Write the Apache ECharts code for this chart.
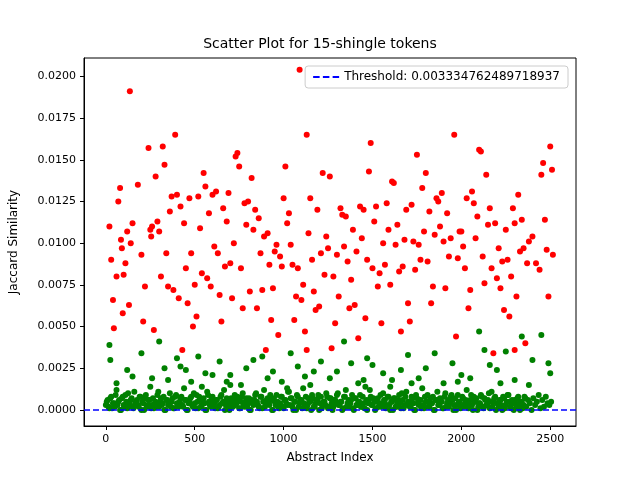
<!DOCTYPE html>
<html>
<head>
<meta charset="UTF-8">
<script src="https://cdn.jsdelivr.net/npm/echarts/dist/echarts.min.js"></script>
<style>html,body{margin:0;background:#fff}#chart{width:640px;height:480px}</style>
</head>
<body>
<div id="chart"></div>
<script type="text/javascript">
const threshold = 0.003334762489718937;
const xTicks = [0, 500, 1000, 1500, 2000, 2500];
const yTicks = [0, 0.0025, 0.005, 0.0075, 0.01, 0.0125, 0.015, 0.0175, 0.02];

// Points above threshold: [index, similarity]
const redPoints = [
[20,0.0110],[30,0.0090],[40,0.0066],[45,0.0049],[60,0.0080],[70,0.0125],[80,0.0133],[85,0.0102],[90,0.0097],[95,0.0058],
[100,0.0081],[110,0.0088],[120,0.0107],[130,0.0063],[135,0.0191],[140,0.0100],[150,0.0112],[180,0.0135],[200,0.0093],
[210,0.0053],[220,0.0074],[240,0.0157],[250,0.0108],[255,0.0104],[260,0.0110],[270,0.0048],[280,0.0140],[290,0.0113],[300,0.0107],
[310,0.0080],[320,0.0158],[330,0.0147],[340,0.0094],[350,0.0074],[360,0.0119],[370,0.0128],[380,0.0072],[390,0.0165],[400,0.0129],
[410,0.0067],[420,0.0122],[430,0.0036],[440,0.0112],[450,0.0085],[460,0.0064],[470,0.0127],[480,0.0094],[490,0.0050],[500,0.0075],
[510,0.0056],[520,0.0128],[530,0.0109],[540,0.0082],[550,0.0142],[560,0.0134],[570,0.0079],[580,0.0118],[590,0.0074],[600,0.0129],
[610,0.0098],[620,0.0131],[630,0.0094],[640,0.0069],[650,0.0053],[660,0.0121],[670,0.0086],[680,0.0113],[690,0.0130],[700,0.0088],
[710,0.0067],[720,0.0100],[730,0.0152],[740,0.0154],[750,0.0146],[760,0.0085],[770,0.0061],[780,0.0124],[790,0.0111],[800,0.0125],
[810,0.0071],[820,0.0139],[830,0.0108],[840,0.0120],[850,0.0061],[860,0.0115],[870,0.0094],[880,0.0072],[890,0.0104],[900,0.0036],
[910,0.0106],[920,0.0087],[930,0.0054],[940,0.0073],[950,0.0095],[960,0.0099],[970,0.0045],[980,0.0092],[990,0.0086],[1000,0.0127],
[1010,0.0146],[1020,0.0112],[1030,0.0118],[1040,0.0099],[1050,0.0087],[1060,0.0054],[1070,0.0068],[1080,0.0085],[1090,0.0204],[1100,0.0066],
[1110,0.0075],[1120,0.0047],[1130,0.0165],[1140,0.0106],[1150,0.0127],[1160,0.0090],[1170,0.0071],[1180,0.0060],[1190,0.0120],[1200,0.0062],
[1210,0.0094],[1220,0.0142],[1230,0.0081],[1240,0.0104],[1250,0.0097],[1260,0.0140],[1270,0.0037],[1280,0.0080],[1290,0.0052],[1300,0.0093],
[1310,0.0068],[1320,0.0121],[1330,0.0117],[1340,0.0098],[1350,0.0116],[1360,0.0089],[1370,0.0061],[1380,0.0078],[1390,0.0108],[1400,0.0063],
[1410,0.0095],[1420,0.0043],[1430,0.0122],[1440,0.0103],[1450,0.0120],[1460,0.0055],[1470,0.0090],[1480,0.0143],[1490,0.0160],[1500,0.0085],
[1510,0.0113],[1520,0.0122],[1530,0.0074],[1540,0.0082],[1550,0.0052],[1560,0.0100],[1570,0.0087],[1580,0.0124],[1590,0.0108],[1600,0.0075],
[1610,0.0137],[1620,0.0136],[1630,0.0099],[1640,0.0111],[1650,0.0083],[1660,0.0047],[1670,0.0086],[1680,0.0102],[1690,0.0120],[1700,0.0064],
[1710,0.0053],[1720,0.0123],[1730,0.0101],[1740,0.0084],[1750,0.0153],[1760,0.0099],[1770,0.0090],[1780,0.0133],[1790,0.0107],[1800,0.0142],
[1810,0.0089],[1820,0.0119],[1830,0.0064],[1840,0.0074],[1850,0.0105],[1860,0.0127],[1870,0.0125],[1880,0.0110],[1890,0.0130],[1900,0.0101],
[1910,0.0073],[1920,0.0118],[1930,0.0092],[1940,0.0103],[1960,0.0165],[1970,0.0044],[1980,0.0091],[1990,0.0107],[2000,0.0107],[2010,0.0098],
[2020,0.0085],[2030,0.0127],[2040,0.0061],[2050,0.0072],[2060,0.0131],[2070,0.0124],[2080,0.0103],[2090,0.0116],[2100,0.0156],[2110,0.0155],
[2120,0.0092],[2130,0.0076],[2140,0.0141],[2150,0.0111],[2160,0.0121],[2170,0.0085],[2180,0.0034],[2190,0.0112],[2200,0.0079],[2210,0.0097],
[2220,0.0073],[2230,0.0089],[2240,0.0060],[2250,0.0108],[2260,0.0090],[2270,0.0056],[2280,0.0080],[2290,0.0121],[2300,0.0112],[2310,0.0068],
[2320,0.0129],[2330,0.0095],[2340,0.0114],[2350,0.0097],[2360,0.0040],[2370,0.0088],[2380,0.0101],[2400,0.0104],[2420,0.0088],[2440,0.0084],
[2450,0.0141],[2460,0.0148],[2470,0.0114],[2480,0.0096],[2490,0.0068],[2500,0.0158],[2510,0.0144],[2515,0.0093],[2300,0.0036],[1130,0.0036]
];

// Dense band below threshold, one value per 10 indices, in units of 1e-4
const bandStep = 10;
const bandValues = [
3,6,1,8,4,2,12,5,0,7,3,9,1,4,6,2,11,5,3,8,0,4,7,2,6,14,3,1,5,9,2,7,4,0,6,3,10,5,1,8,
4,2,7,3,13,6,0,5,8,2,4,9,1,6,3,7,0,11,5,2,8,4,6,1,3,9,5,0,7,2,15,4,6,3,8,1,5,10,2,7,
4,0,6,3,9,5,2,8,1,12,4,7,3,6,0,5,9,2,4,8,1,6,3,11,7,2,5,0,8,4,6,13,3,1,7,5,9,2,4,6,
0,8,3,5,10,1,7,4,2,6,9,3,5,0,8,12,4,2,6,1,7,3,5,9,2,4,14,0,6,8,3,5,1,7,4,2,10,6,3,8,
0,5,7,2,4,9,1,6,3,11,5,2,8,4,0,7,3,6,13,1,5,9,2,4,8,0,6,3,7,5,1,10,4,2,8,6,3,0,9,5,
2,7,4,12,1,6,3,8,5,0,4,9,2,7,3,6,1,11,5,8,4,2,6,0,7,3,9,5,1,4,6,2,8,0,5,3,7
];
const bandValues2 = [
5,2,7,1,4,9,3,6,0,8,2,5,10,3,7,1,4,6,2,8,5,0,9,3,6,1,7,4,2,11,5,3,8,0,6,4,2,7,1,9,
3,5,8,2,6,0,4,7,3,10,1,5,8,2,6,4,0,9,3,7,5,1,6,2,8,4,12,3,5,0,7,2,9,4,6,1,8,3,5,2,
7,0,4,6,10,3,1,8,5,2,6,4,9,0,7,3,5,1,8,2,6,4,11,3,7,0,5,9,2,6,1,4,8,3,5,0,7,2,6,9,
4,1,5,3,8,2,7,0,6,4,10,3,5,1,8,2,6,4,9,0,7,3,5,2,8,1,6,4,12,3,7,0,5,2,9,4,6,1,8,3,
5,0,7,2,6,4,10,1,8,3,5,2,7,0,9,4,6,1,3,8,5,2,7,4,0,6,11,3,5,1,8,2,6,4,9,0,7,3,5,1,
8,2,6,4,3,9,0,5,7,2,4,8,1,6,3,10,5,2,7,0,4,6,3,8,1,5,9,2,6,0,4,7,3,5,1,8,2,6,4,0,
7,3,5,9,1,6,2,8,4,3,5
];

// Scattered green points below threshold
const greenHigh = [
[20,0.0039],[25,0.0030],[60,0.0016],[120,0.0024],[150,0.0020],[200,0.0034],[260,0.0019],[300,0.0041],[330,0.0025],[400,0.0031],
[420,0.0026],[450,0.0024],[480,0.0017],[520,0.0032],[560,0.0022],[600,0.0021],[640,0.0029],[700,0.0021],[760,0.0015],[790,0.0025],
[830,0.0030],[880,0.0032],[940,0.0023],[990,0.0017],[1040,0.0034],[1080,0.0026],[1120,0.0020],[1170,0.0023],[1210,0.0029],[1260,0.0019],
[1300,0.0023],[1340,0.0041],[1380,0.0028],[1420,0.0016],[1470,0.0031],[1500,0.0027],[1560,0.0022],[1610,0.0018],[1660,0.0024],[1700,0.0033],
[1760,0.0019],[1800,0.0025],[1850,0.0034],[1900,0.0016],[1950,0.0028],[2000,0.0021],[2050,0.0019],[2100,0.0047],[2130,0.0036],[2160,0.0027],
[2200,0.0024],[2250,0.0035],[2300,0.0018],[2340,0.0044],[2400,0.0030],[2450,0.0045],[2490,0.0028],[2500,0.0022],[350,0.0018],[680,0.0017],
[910,0.0019],[1150,0.0015],[1450,0.0018],[1720,0.0016],[1980,0.0017],[2220,0.0016],[540,0.0014],[1020,0.0013],[1600,0.0014],[2380,0.0015]
];

const greenPoints = []
  .concat(bandValues.map((v, i) => [i * bandStep, v * 1e-4]))
  .concat(bandValues2.map((v, i) => [i * bandStep + 5, v * 1e-4]))
  .concat(greenHigh);

const chart = echarts.init(document.getElementById('chart'));
const font = 'DejaVu Sans';
const thrName = 'Threshold: 0.003334762489718937';
const option = {
  animation: false,
  backgroundColor: '#fff',
  title: {
    text: 'Scatter Plot for 15-shingle tokens', left: 'center', top: 32,
    textStyle: { fontFamily: font, fontSize: 14, fontWeight: 'normal', color: '#000' }
  },
  legend: {
    right: 72, top: 66, orient: 'vertical',
    backgroundColor: '#fff', borderColor: '#ccc', borderWidth: 1, borderRadius: 3,
    padding: [5, 8], itemWidth: 26, itemHeight: 4,
    textStyle: { fontFamily: font, fontSize: 12, color: '#000' },
    data: [{ name: thrName,
      icon: 'path://M0,0h6v2h-6z M9,0h6v2h-6z M18,0h6v2h-6z', itemStyle: { color: '#0000ff' } }]
  },
  grid: { left: 80, right: 64, top: 58, bottom: 54, show: true, borderColor: '#000', borderWidth: 1 },
  xAxis: {
    type: 'value', min: -123, max: 2645, name: 'Abstract Index', nameLocation: 'middle', nameGap: 26,
    nameTextStyle: { fontFamily: font, fontSize: 12, color: '#000' },
    axisLine: { show: true, onZero: false, lineStyle: { color: '#000' } },
    axisTick: { show: true, customValues: xTicks, length: 4, lineStyle: { color: '#000' } },
    axisLabel: { customValues: xTicks, fontFamily: font, fontSize: 11, color: '#000', formatter: v => String(v) },
    splitLine: { show: false }
  },
  yAxis: {
    type: 'value', min: -0.00096, max: 0.0211, name: 'Jaccard Similarity', nameLocation: 'middle', nameGap: 64,
    nameTextStyle: { fontFamily: font, fontSize: 12, color: '#000' },
    axisLine: { show: true, onZero: false, lineStyle: { color: '#000' } },
    axisTick: { show: true, customValues: yTicks, length: 4, lineStyle: { color: '#000' } },
    axisLabel: { customValues: yTicks, fontFamily: font, fontSize: 11, color: '#000', formatter: v => v.toFixed(4) },
    splitLine: { show: false }
  },
  series: [
    { name: 'below', type: 'scatter', symbolSize: 6, itemStyle: { color: '#008000', opacity: 1 }, data: greenPoints },
    { name: 'above', type: 'scatter', symbolSize: 6, itemStyle: { color: '#ff0000', opacity: 1 }, data: redPoints,
      markLine: { symbol: 'none', silent: true, label: { show: false },
        lineStyle: { color: '#0000ff', type: [6, 3], width: 1.5 }, data: [{ yAxis: threshold }] } },
    { name: thrName, type: 'line', data: [], itemStyle: { color: '#0000ff' } }
  ]
};
chart.setOption(option);
</script>
</body>
</html>
